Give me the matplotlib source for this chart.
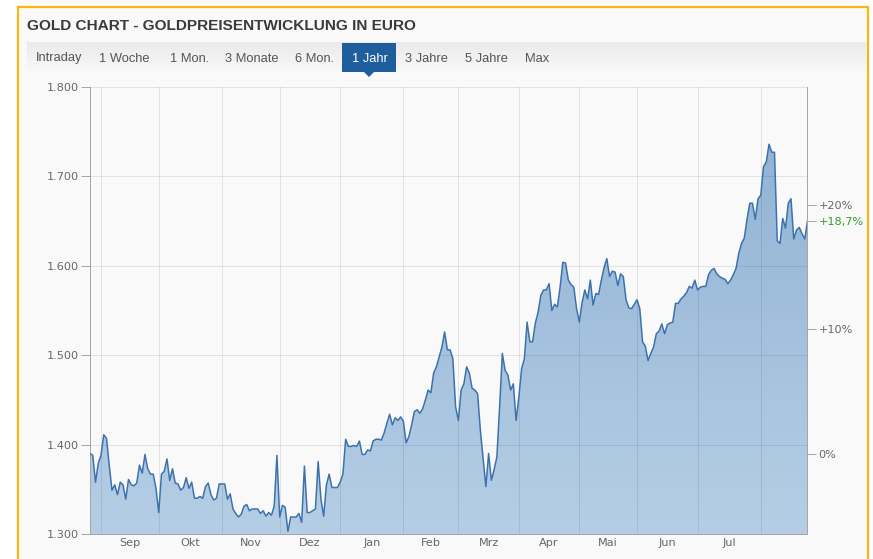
import numpy as np
import pandas as pd
import matplotlib
matplotlib.use("Agg")
import matplotlib.pyplot as plt
from matplotlib.patches import Rectangle, Polygon

# ---------------- data (EUR per ounce, one value per trading day) ----------------
start_date = "2019-08-27"
prices_aug19 = [1390, 1388, 1358, 1379]
prices_sep19 = [1388, 1411, 1407, 1377, 1349, 1355, 1344, 1358, 1355, 1339, 1361,
                1355, 1354, 1357, 1377, 1368, 1389, 1373, 1367, 1367, 1351]
prices_oct19 = [1324, 1367, 1370, 1384, 1360, 1373, 1357, 1356, 1349, 1352, 1363,
                1351, 1358, 1340, 1340, 1342, 1340, 1353, 1357, 1344, 1338, 1340, 1356]
prices_nov19 = [1356, 1356, 1339, 1345, 1328, 1323, 1319, 1322, 1331, 1333, 1326,
                1328, 1328, 1328, 1323, 1326, 1320, 1324, 1321, 1331, 1388]
prices_dec19 = [1319, 1332, 1330, 1303, 1319, 1319, 1319, 1323, 1313, 1376, 1324,
                1324, 1326, 1328, 1381, 1339, 1320, 1355, 1367, 1352, 1352, 1352]
prices_jan20 = [1358, 1367, 1406, 1398, 1398, 1399, 1398, 1404, 1389, 1389, 1394,
                1393, 1404, 1406, 1406, 1405, 1413, 1424, 1434, 1422, 1430, 1427, 1431]
prices_feb20 = [1426, 1402, 1409, 1422, 1437, 1439, 1435, 1440, 1450, 1461, 1458,
                1480, 1487, 1498, 1509, 1526, 1506, 1506, 1496, 1442]
prices_mar20 = [1427, 1461, 1468, 1487, 1480, 1463, 1461, 1457, 1416, 1385, 1353,
                1390, 1360, 1372, 1386, 1442, 1502, 1483, 1478, 1461, 1468, 1427]
prices_apr20 = [1453, 1485, 1496, 1537, 1515, 1515, 1536, 1548, 1567, 1573, 1573,
                1580, 1550, 1557, 1554, 1576, 1604, 1603, 1584, 1579, 1576, 1552]
prices_may20 = [1537, 1559, 1573, 1563, 1584, 1556, 1569, 1568, 1584, 1598, 1608,
                1588, 1594, 1593, 1578, 1591, 1588, 1562, 1553, 1552, 1557]
prices_jun20 = [1562, 1552, 1515, 1510, 1494, 1502, 1509, 1524, 1527, 1535, 1524,
                1534, 1536, 1537, 1558, 1558, 1563, 1566, 1570, 1577, 1575, 1584]
prices_jul20 = [1573, 1576, 1577, 1577, 1590, 1595, 1597, 1591, 1588, 1586, 1585,
                1580, 1584, 1590, 1597, 1614, 1625, 1631, 1652, 1670, 1670, 1652, 1675]
prices_aug20 = [1679, 1711, 1716, 1736, 1727, 1727, 1628, 1625, 1653, 1642, 1670,
                1675, 1630, 1640, 1643, 1636, 1630, 1650]

month_labels = ["Sep", "Okt", "Nov", "Dez", "Jan", "Feb", "Mrz", "Apr", "Mai", "Jun", "Jul"]
price_ticks = [1300, 1400, 1500, 1600, 1700, 1800]
pct_ticks = [0, 10, 20]
tabs = ["Intraday", "1 Woche", "1 Mon.", "3 Monate", "6 Mon.", "1 Jahr", "3 Jahre", "5 Jahre", "Max"]
active_tab = "1 Jahr"
title = "GOLD CHART - GOLDPREISENTWICKLUNG IN EURO"

prices = np.array(prices_aug19 + prices_sep19 + prices_oct19 + prices_nov19 + prices_dec19 +
                  prices_jan20 + prices_feb20 + prices_mar20 + prices_apr20 + prices_may20 +
                  prices_jun20 + prices_jul20 + prices_aug20, dtype=float)
dates = pd.bdate_range(start_date, periods=len(prices))
n = len(prices)
x = np.arange(n)

# ---------------- figure ----------------
W, H = 873, 559
fig = plt.figure(figsize=(W / 100, H / 100), dpi=100)
fig.patch.set_facecolor("white")
PT = 0.72  # points per pixel

bg = fig.add_axes([0, 0, 1, 1])
bg.set_xlim(0, W)
bg.set_ylim(H, 0)
bg.axis("off")

# widget panel with yellow frame
bg.add_patch(Rectangle((18, 7), 850, 570, facecolor="#f9f9f9", edgecolor="#f6b80d",
                       lw=2.2 * PT, zorder=1))

# tab strip gradient
strip = np.linspace(0, 1, 60)[:, None]
c_top = np.array([234, 234, 234]) / 255
c_bot = np.array([249, 249, 249]) / 255
grad = c_top[None, None, :] * (1 - strip[:, :, None]) + c_bot[None, None, :] * strip[:, :, None]
bg.imshow(grad, extent=(27, 867, 73, 42), aspect="auto", origin="upper", zorder=2)
bg.set_xlim(0, W)
bg.set_ylim(H, 0)

bg.text(27, 30, title, ha="left", va="baseline", fontsize=11.1, fontweight="bold",
        color="#3a3a3a", family="Liberation Sans", zorder=5)

tab_x = [36, 99, 170, 225, 295, 352, 405, 465, 525]
for t, tx in zip(tabs, tab_x):
    if t == active_tab:
        bg.add_patch(Rectangle((342, 43), 54, 29, facecolor="#1f5e9d", edgecolor="none", zorder=3))
        bg.add_patch(Polygon([(363.5, 71.5), (374.5, 71.5), (369, 77)], closed=True,
                             facecolor="#1f5e9d", edgecolor="none", zorder=3))
        col = "white"
    else:
        col = "#555555"
    bg.text(tx, 61.5, t, ha="left", va="baseline", fontsize=9.3, color=col,
            family="Liberation Sans", zorder=5)

# ---------------- main chart ----------------
L, R, T, B = 90, 807.5, 87, 534
ax = fig.add_axes([L / W, 1 - B / H, (R - L) / W, (B - T) / H])
ax.set_facecolor("none")
ymin, ymax = price_ticks[0], price_ticks[-1]

# gradient area fill clipped to the series polygon
yy = np.linspace(0, 1, 256)[:, None]
fill_bot = np.array([181, 206, 229]) / 255
fill_top = np.array([141, 176, 210]) / 255
fgrad = fill_bot[None, None, :] * (1 - yy[:, :, None]) + fill_top[None, None, :] * yy[:, :, None]
im = ax.imshow(fgrad, extent=(0, n - 1, ymin, ymax), aspect="auto", origin="lower", zorder=2)
verts = np.column_stack([np.r_[x, x[::-1]], np.r_[prices, np.full(n, ymin)]])
clip = Polygon(verts, closed=True, facecolor="none", edgecolor="none", transform=ax.transData)
ax.add_patch(clip)
im.set_clip_path(clip)

ax.plot(x, prices, color="#3b71ac", lw=1.5 * PT, zorder=4, solid_joinstyle="round")

ax.set_xlim(0, n - 1)
ax.set_ylim(ymin, ymax)

# grid lines (month starts, price ticks)
month_starts = np.where(np.diff(dates.month) != 0)[0] + 1
grid_col = (0, 0, 0, 0.085)
for ms in month_starts:
    ax.axvline(ms, color=grid_col, lw=1 * PT, zorder=3)
for pt in price_ticks[1:]:
    ax.axhline(pt, color=grid_col, lw=1 * PT, zorder=3)

# axes styling
axis_col = "#a6a6a6"
label_col = "#666666"
for s in ["top", "right"]:
    ax.spines[s].set_visible(False)
for s in ["left", "bottom"]:
    ax.spines[s].set_color(axis_col)
    ax.spines[s].set_linewidth(1 * PT)

ax.set_yticks(price_ticks)
ax.set_yticklabels([f"{v:,}".replace(",", ".") for v in price_ticks])
ax.tick_params(axis="y", length=9 * PT, width=1 * PT, color=axis_col, pad=2 * PT,
               labelsize=8.1, labelcolor=label_col)

ax.set_xticks(month_starts)
ax.set_xticklabels([])
mids = (month_starts[:-1] + month_starts[1:]) / 2
ax.set_xticks(mids, minor=True)
ax.set_xticklabels(month_labels, minor=True)
ax.tick_params(axis="x", which="both", length=0, pad=4 * PT, labelsize=8.1, labelcolor=label_col)

# right axis: performance in percent relative to first value
ax2 = ax.twinx()
ax2.set_ylim(ymin, ymax)
ax2.patch.set_visible(False)
for s in ["top", "left", "bottom"]:
    ax2.spines[s].set_visible(False)
ax2.spines["right"].set_color(axis_col)
ax2.spines["right"].set_linewidth(1 * PT)
p0 = prices[0]
pct_last = (prices[-1] / p0 - 1) * 100
rt_pos = [p0 * (1 + p / 100) for p in pct_ticks] + [prices[-1]]
rt_lab = [("+" if p > 0 else "") + f"{p}%" for p in pct_ticks] + \
         ["+" + f"{pct_last:.1f}".replace(".", ",") + "%"]
ax2.set_yticks(rt_pos)
ax2.set_yticklabels(rt_lab)
ax2.tick_params(axis="y", length=9 * PT, width=1 * PT, color=axis_col, pad=2 * PT,
                labelsize=8.1, labelcolor=label_col)
ax2.get_yticklabels()[-1].set_color("#2f9a2f")

fig.savefig("out.png", dpi=100, facecolor="white")
